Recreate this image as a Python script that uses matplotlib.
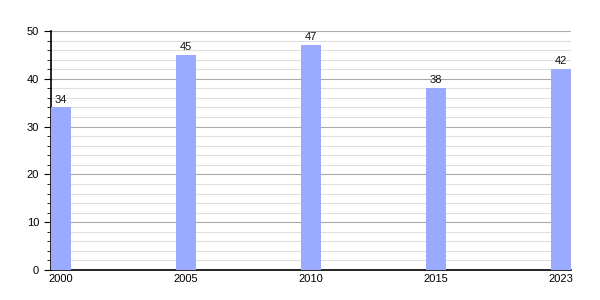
import matplotlib
matplotlib.use("Agg")
import matplotlib.pyplot as plt
from matplotlib.ticker import MultipleLocator

plt.rcParams['font.family'] = ['Liberation Sans', 'DejaVu Sans']

years = ['2000', '2005', '2010', '2015', '2023']
values = [34, 45, 47, 38, 42]

BAR_COLOR = '#99aaff'

fig = plt.figure(figsize=(6, 3), dpi=100)
ax = fig.add_axes([51/600, 30/300, 520/600, 239/300])

x = range(len(years))
ax.bar(x, values, width=0.16, color=BAR_COLOR, zorder=3)
for i, v in enumerate(values):
    ax.text(i, v + 0.6, str(v), ha='center', va='bottom', fontsize=8, color='#111111')

ax.set_xlim(-0.08, len(years) - 1 + 0.08)
ax.set_ylim(0, 50)
ax.set_xticks(list(x))
ax.set_xticklabels(years)
ax.yaxis.set_major_locator(MultipleLocator(10))
ax.yaxis.set_minor_locator(MultipleLocator(2))
ax.grid(which='major', axis='y', color='#aaaaaa', linewidth=0.8, zorder=0)
ax.grid(which='minor', axis='y', color='#e0e0e0', linewidth=0.8, zorder=0)
ax.set_axisbelow(True)

for s in ['top', 'right']:
    ax.spines[s].set_visible(False)
ax.spines['left'].set_linewidth(1.2)
ax.spines['bottom'].set_linewidth(1.2)
ax.tick_params(axis='x', length=0, labelsize=8, pad=3)
ax.tick_params(axis='y', which='major', length=5, labelsize=8, direction='out')
ax.tick_params(axis='y', which='minor', length=3, direction='out')

fig.savefig('out.png', dpi=100)
